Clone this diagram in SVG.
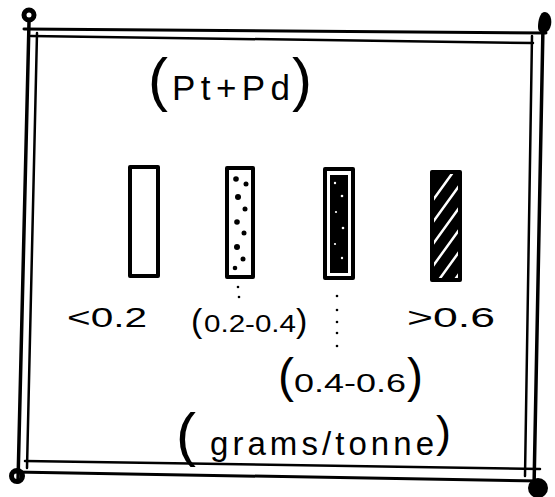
<svg xmlns="http://www.w3.org/2000/svg" width="555" height="497" viewBox="0 0 555 497">
<style>
.frame{stroke:#000;stroke-linecap:round;fill:none}
.box{stroke:#000;stroke-width:4;fill:none;stroke-linejoin:round}
.hand{font-family:"Liberation Sans","DejaVu Sans",sans-serif;fill:#000}
.dot{fill:#000}
</style>
<defs>
<clipPath id="c4"><rect x="432" y="172" width="28" height="108"/></clipPath>
</defs>
<rect width="555" height="497" fill="#fff"/>
<g id="frame">
<line class="frame" x1="24" y1="29" x2="546" y2="33" stroke-width="3"/>
<line class="frame" x1="31" y1="36" x2="533" y2="43" stroke-width="2.5"/>
<line class="frame" x1="29" y1="22" x2="18" y2="482" stroke-width="3.5"/>
<line class="frame" x1="37" y1="33" x2="27" y2="468" stroke-width="2.5"/>
<line class="frame" x1="543" y1="26" x2="534" y2="488" stroke-width="3.5"/>
<line class="frame" x1="532" y1="36" x2="525" y2="476" stroke-width="2.5"/>
<line class="frame" x1="14" y1="472" x2="540" y2="481" stroke-width="3"/>
<line class="frame" x1="25" y1="461" x2="540" y2="469" stroke-width="2.5"/>
<circle cx="29" cy="15" r="5" fill="none" stroke="#000" stroke-width="5"/>
<path d="M545,12 C552,13 553,24 549,30 C545,35 538,34 538,27 C538,20 540,12 545,12 Z" fill="#000"/>
<circle cx="17" cy="476" r="5.5" fill="none" stroke="#000" stroke-width="5"/>
<circle cx="538" cy="488" r="10" fill="#000"/>
</g>
<g id="title">
<text class="hand" y="100"><tspan x="148" font-size="60">(</tspan><tspan x="172" font-size="35" textLength="118" lengthAdjust="spacing">Pt+Pd</tspan><tspan x="292" font-size="60">)</tspan></text>
</g>
<g id="bar1">
<rect class="box" x="130" y="167" width="28" height="109"/>
</g>
<g id="bar2">
<rect class="box" x="227" y="168" width="26" height="109"/>
<circle class="dot" cx="236" cy="179" r="2.8"/>
<circle class="dot" cx="246" cy="184" r="2.5"/>
<circle class="dot" cx="238" cy="197" r="3"/>
<circle class="dot" cx="245" cy="209" r="2.5"/>
<circle class="dot" cx="237" cy="222" r="2.8"/>
<circle class="dot" cx="244" cy="233" r="2.5"/>
<circle class="dot" cx="237" cy="247" r="3"/>
<circle class="dot" cx="243" cy="259" r="2.5"/>
<circle class="dot" cx="235" cy="268" r="2.3"/>
</g>
<g id="bar3">
<rect class="box" x="325" y="169" width="28" height="109"/>
<rect x="330" y="175" width="18" height="98" fill="#000"/>
<circle cx="335" cy="183" r="1.2" fill="#fff"/>
<circle cx="342" cy="196" r="1.3" fill="#fff"/>
<circle cx="336" cy="212" r="1.1" fill="#fff"/>
<circle cx="343" cy="228" r="1.3" fill="#fff"/>
<circle cx="335" cy="244" r="1.1" fill="#fff"/>
<circle cx="342" cy="258" r="1.2" fill="#fff"/>
</g>
<g id="bar4">
<rect x="432" y="172" width="28" height="108" fill="#000"/>
<g clip-path="url(#c4)" stroke="#fff" stroke-width="2.5" stroke-linecap="round">
<line x1="433" y1="200" x2="459" y2="164"/>
<line x1="433" y1="222" x2="459" y2="186"/>
<line x1="433" y1="244" x2="459" y2="208"/>
<line x1="433" y1="266" x2="459" y2="230"/>
<line x1="433" y1="288" x2="459" y2="252"/>
<line x1="433" y1="310" x2="459" y2="274"/>
</g>
<rect class="box" x="432" y="172" width="28" height="108"/>
</g>
<g id="connectors">
<circle class="dot" cx="238" cy="287" r="1.3"/>
<circle class="dot" cx="239" cy="297" r="1.3"/>
<circle class="dot" cx="337" cy="296" r="1.3"/>
<circle class="dot" cx="337" cy="310" r="1.3"/>
<circle class="dot" cx="337" cy="322" r="1.3"/>
<circle class="dot" cx="337" cy="333" r="1.3"/>
<circle class="dot" cx="337" cy="346" r="1.3"/>
</g>
<g id="labels">
<text class="hand" x="67" y="327" font-size="27" textLength="80" lengthAdjust="spacingAndGlyphs">&lt;0.2</text>
<text class="hand" y="327"><tspan x="191" y="332" font-size="34">(</tspan><tspan x="204" font-size="24" textLength="92" lengthAdjust="spacingAndGlyphs">0.2-0.4</tspan><tspan x="296" y="332" font-size="34">)</tspan></text>
<text class="hand" x="407" y="327" font-size="27" textLength="88" lengthAdjust="spacingAndGlyphs">&gt;0.6</text>
<text class="hand" y="380"><tspan x="278" y="392" font-size="48">(</tspan><tspan x="294" font-size="25" textLength="112" lengthAdjust="spacingAndGlyphs">0.4-0.6</tspan><tspan x="407" y="392" font-size="48">)</tspan></text>
<text class="hand" y="445"><tspan x="176" y="455" font-size="60">(</tspan><tspan x="210" font-size="33" textLength="224" lengthAdjust="spacing">grams/tonne</tspan><tspan x="436" y="447" font-size="45">)</tspan></text>
</g>
</svg>
